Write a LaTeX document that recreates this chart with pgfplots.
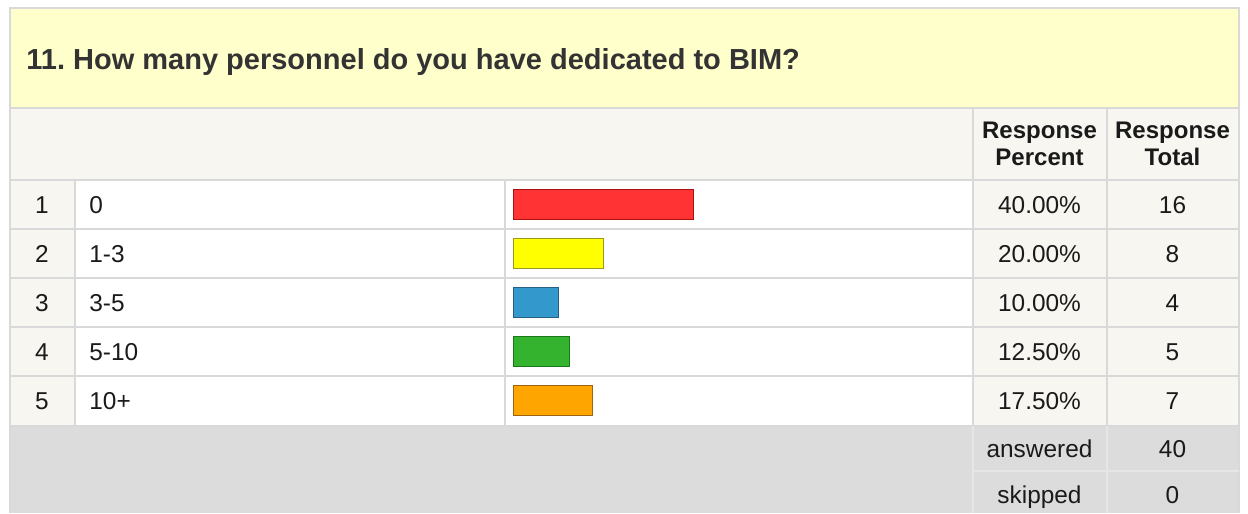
\documentclass[border=0pt]{standalone}
\usepackage{fontspec}
\setmainfont{Liberation Sans}
\usepackage{pgfplots}
\pgfplotsset{compat=1.18}
\frenchspacing
\definecolor{titlebg}{HTML}{FFFFCC}
\definecolor{beige}{HTML}{F7F6F0}
\definecolor{grid}{HTML}{D9D9D9}
\definecolor{graybg}{HTML}{DCDCDC}
\definecolor{graygrid}{HTML}{E6E6E6}
\definecolor{txt}{HTML}{1A1A1A}
\definecolor{titletxt}{HTML}{333333}
\definecolor{barred}{HTML}{FF3333}
\definecolor{barredb}{HTML}{AA1111}
\definecolor{baryel}{HTML}{FFFF00}
\definecolor{baryelb}{HTML}{999922}
\definecolor{barblue}{HTML}{3399CC}
\definecolor{barblueb}{HTML}{2A5F85}
\definecolor{bargreen}{HTML}{33B32E}
\definecolor{bargreenb}{HTML}{1A7A1A}
\definecolor{barorange}{HTML}{FFA500}
\definecolor{barorangeb}{HTML}{9A6411}
\begin{document}
\begin{tikzpicture}
\begin{axis}[
  scale only axis, width=624pt, height=256.5pt,
  xmin=0, xmax=1248, ymin=0, ymax=513, y dir=reverse,
  hide axis, clip=false,
]
% backgrounds
\fill[white] (axis cs:0,0) rectangle (axis cs:1248,513);
\fill[titlebg] (axis cs:10,8) rectangle (axis cs:1239,108);
\fill[beige] (axis cs:10,108) rectangle (axis cs:1239,180);
\fill[beige] (axis cs:10,180) rectangle (axis cs:75,425);
\fill[beige] (axis cs:973,180) rectangle (axis cs:1239,425);
\fill[graybg] (axis cs:10,425) rectangle (axis cs:1239,513);
% grid lines
\begin{scope}[draw=grid, line width=1pt]
\draw (axis cs:10,513) -- (axis cs:10,8) -- (axis cs:1239,8) -- (axis cs:1239,513);
\draw (axis cs:10,108) -- (axis cs:1239,108);
\draw (axis cs:10,180) -- (axis cs:1239,180);
\draw (axis cs:10,229) -- (axis cs:1239,229);
\draw (axis cs:10,278) -- (axis cs:1239,278);
\draw (axis cs:10,327) -- (axis cs:1239,327);
\draw (axis cs:10,376) -- (axis cs:1239,376);
\draw (axis cs:10,425.5) -- (axis cs:1239,425.5);
\draw (axis cs:75,180) -- (axis cs:75,425);
\draw (axis cs:505,180) -- (axis cs:505,425);
\draw (axis cs:973,108) -- (axis cs:973,425);
\draw (axis cs:1106.5,108) -- (axis cs:1106.5,425);
\end{scope}
\begin{scope}[draw=graygrid, line width=1pt]
\draw (axis cs:973,426) -- (axis cs:973,513);
\draw (axis cs:1106.5,426) -- (axis cs:1106.5,513);
\draw (axis cs:973,471) -- (axis cs:1239,471);
\end{scope}
% texts
\node[anchor=base west, text=titletxt, inner sep=0pt, font=\fontsize{14.5pt}{16pt}\selectfont\bfseries] at (axis cs:26,69) {11. How many personnel do you have dedicated to BIM?};
\begin{scope}[every node/.style={text=txt, inner sep=0pt, anchor=base, font=\fontsize{12.2pt}{13.5pt}\selectfont}]
\node[align=center, anchor=center, font=\fontsize{12pt}{13.5pt}\selectfont\bfseries] at (axis cs:1039.5,144) {Response\\Percent};
\node[align=center, anchor=center, font=\fontsize{12pt}{13.5pt}\selectfont\bfseries] at (axis cs:1172.5,144) {Response\\Total};
\node at (axis cs:42,213) {1};
\node at (axis cs:42,262) {2};
\node at (axis cs:42,311) {3};
\node at (axis cs:42,360) {4};
\node at (axis cs:42,409) {5};
\node[anchor=base west] at (axis cs:89,213) {0};
\node[anchor=base west] at (axis cs:89,262) {1-3};
\node[anchor=base west] at (axis cs:89,311) {3-5};
\node[anchor=base west] at (axis cs:89,360) {5-10};
\node[anchor=base west] at (axis cs:89,409) {10+};
\node at (axis cs:1039.5,213) {40.00\%};
\node at (axis cs:1039.5,262) {20.00\%};
\node at (axis cs:1039.5,311) {10.00\%};
\node at (axis cs:1039.5,360) {12.50\%};
\node at (axis cs:1039.5,409) {17.50\%};
\node at (axis cs:1172.5,213) {16};
\node at (axis cs:1172.5,262) {8};
\node at (axis cs:1172.5,311) {4};
\node at (axis cs:1172.5,360) {5};
\node at (axis cs:1172.5,409) {7};
\node at (axis cs:1039.5,457) {answered};
\node at (axis cs:1172.5,457) {40};
\node at (axis cs:1039.5,503) {skipped};
\node at (axis cs:1172.5,503) {0};
\end{scope}
\coordinate (barorigin) at (axis cs:513.5,180);
\end{axis}
\begin{axis}[
  at={(barorigin)}, anchor=north west,
  scale only axis, width=225pt, height=122.5pt,
  xmin=0, xmax=100, ymin=0.5, ymax=5.5, y dir=reverse,
  hide axis, clip=false,
]
\addplot[xbar, bar width=15pt, bar shift=0pt, fill=barred, draw=barredb, line width=0.6pt] coordinates {(40,1)};
\addplot[xbar, bar width=15pt, bar shift=0pt, fill=baryel, draw=baryelb, line width=0.6pt] coordinates {(20,2)};
\addplot[xbar, bar width=15pt, bar shift=0pt, fill=barblue, draw=barblueb, line width=0.6pt] coordinates {(10,3)};
\addplot[xbar, bar width=15pt, bar shift=0pt, fill=bargreen, draw=bargreenb, line width=0.6pt] coordinates {(12.5,4)};
\addplot[xbar, bar width=15pt, bar shift=0pt, fill=barorange, draw=barorangeb, line width=0.6pt] coordinates {(17.5,5)};
\end{axis}
\end{tikzpicture}
\end{document}
